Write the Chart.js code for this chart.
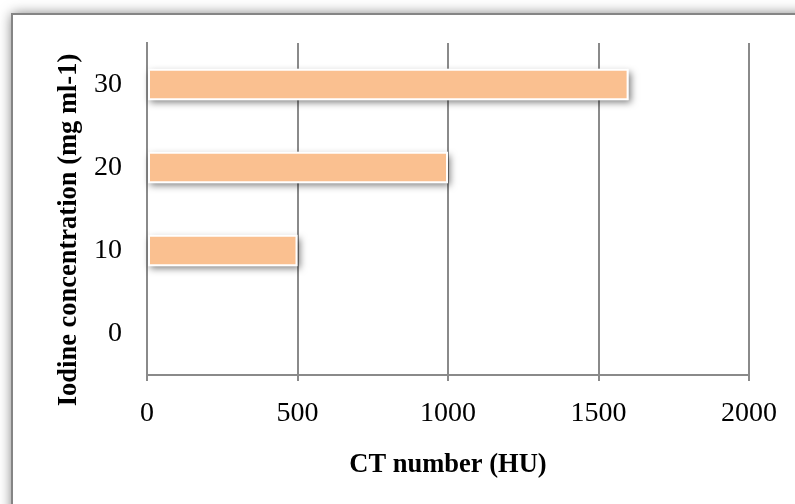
<!DOCTYPE html>
<html>
<head>
<meta charset="utf-8">
<script src="https://cdn.jsdelivr.net/npm/chart.js@4/dist/chart.umd.min.js"></script>
<style>
  html, body { margin: 0; padding: 0; background: #ffffff; }
  #wrap { width: 795px; height: 504px; position: relative; }
</style>
</head>
<body>
<div id="wrap"><canvas id="c" width="795" height="504"></canvas></div>
<script>
// ---- data ----
const categories = ['0', '10', '20', '30'];          // Iodine concentration (mg ml-1)
const ctNumbers  = [0, 500, 1000, 1600];             // CT number (HU)
const xTickMin = 0;
const xTickMax = 2000;
const xTickStep = 500;
const xTitle = 'CT number (HU)';
const yTitle = 'Iodine concentration (mg ml-1)';

const FONT = "'Liberation Serif', 'Times New Roman', serif";
const GRID = '#8a8a8a';

const framePlugin = {
  id: 'frame',
  beforeDraw(chart) {
    const ctx = chart.ctx;
    ctx.save();
    ctx.fillStyle = '#ffffff';
    ctx.fillRect(0, 0, chart.width, chart.height);
    ctx.shadowColor = 'rgba(0,0,0,0.55)';
    ctx.shadowBlur = 12;
    ctx.fillStyle = '#ffffff';
    ctx.fillRect(12, 14, chart.width + 20, chart.height + 20);
    ctx.shadowColor = 'transparent';
    ctx.strokeStyle = '#858585';
    ctx.lineWidth = 2;
    ctx.strokeRect(12, 14, chart.width + 20, chart.height + 20);
    ctx.restore();
  }
};

const barShadowPlugin = {
  id: 'barShadow',
  beforeDatasetsDraw(chart) {
    const ctx = chart.ctx;
    chart.getSortedVisibleDatasetMetas().forEach(meta => {
      meta.data.forEach(el => {
        const p = el.getProps(['x', 'y', 'base', 'height'], true);
        const left = Math.min(p.base, p.x);
        const w = Math.abs(p.x - p.base);
        if (w < 1) return;
        ctx.save();
        ctx.shadowColor = 'rgba(0,0,0,0.5)';
        ctx.shadowBlur = 7;
        ctx.shadowOffsetX = 2;
        ctx.shadowOffsetY = 3;
        ctx.fillStyle = '#ffffff';
        ctx.fillRect(left, p.y - p.height / 2, w, p.height);
        ctx.restore();
      });
    });
  }
};

// y-axis title, drawn as rotated text slightly below the plot centre (as in the original)
const yTitlePlugin = {
  id: 'yTitle',
  afterDraw(chart) {
    const ctx = chart.ctx;
    const a = chart.chartArea;
    ctx.save();
    ctx.translate(69, (a.top + a.bottom) / 2 + 21);
    ctx.rotate(-Math.PI / 2);
    ctx.font = "bold 26.5px " + FONT;
    ctx.fillStyle = '#000000';
    ctx.textAlign = 'center';
    ctx.textBaseline = 'middle';
    ctx.fillText(yTitle, 0, 0);
    ctx.restore();
  }
};

new Chart(document.getElementById('c'), {
  type: 'bar',
  data: {
    labels: categories,
    datasets: [{
      data: ctNumbers,
      backgroundColor: '#FAC090',
      borderColor: '#ffffff',
      borderWidth: 2,
      borderSkipped: false,
      barPercentage: 0.38,
      categoryPercentage: 1.0
    }]
  },
  options: {
    indexAxis: 'y',
    responsive: false,
    animation: false,
    layout: { padding: { left: 0, top: 43, right: 46, bottom: 0 } },
    plugins: {
      legend: { display: false },
      tooltip: { enabled: false }
    },
    scales: {
      x: {
        type: 'linear',
        min: xTickMin,
        max: xTickMax,
        ticks: {
          stepSize: xTickStep,
          color: '#000000',
          font: { family: FONT, size: 28 },
          padding: 16,
          maxRotation: 0,
          callback: (v) => String(v)
        },
        grid: {
          color: GRID,
          lineWidth: 2,
          drawTicks: true,
          tickLength: 6
        },
        border: { display: true, color: GRID, width: 2 },
        title: {
          display: true,
          text: xTitle,
          color: '#000000',
          font: { family: FONT, size: 26.5, weight: 'bold' },
          padding: { top: 20, bottom: 23 }
        },
        afterFit(scale) { scale.height = 129; }
      },
      y: {
        reverse: true,
        z: 1,
        ticks: {
          color: '#000000',
          font: { family: FONT, size: 28 },
          padding: 25
        },
        grid: { display: false, drawTicks: false },
        border: { display: true, color: GRID, width: 2 },
        title: { display: false },
        afterFit(scale) { scale.width = 147; }
      }
    }
  },
  plugins: [framePlugin, barShadowPlugin, yTitlePlugin]
});
</script>
</body>
</html>
